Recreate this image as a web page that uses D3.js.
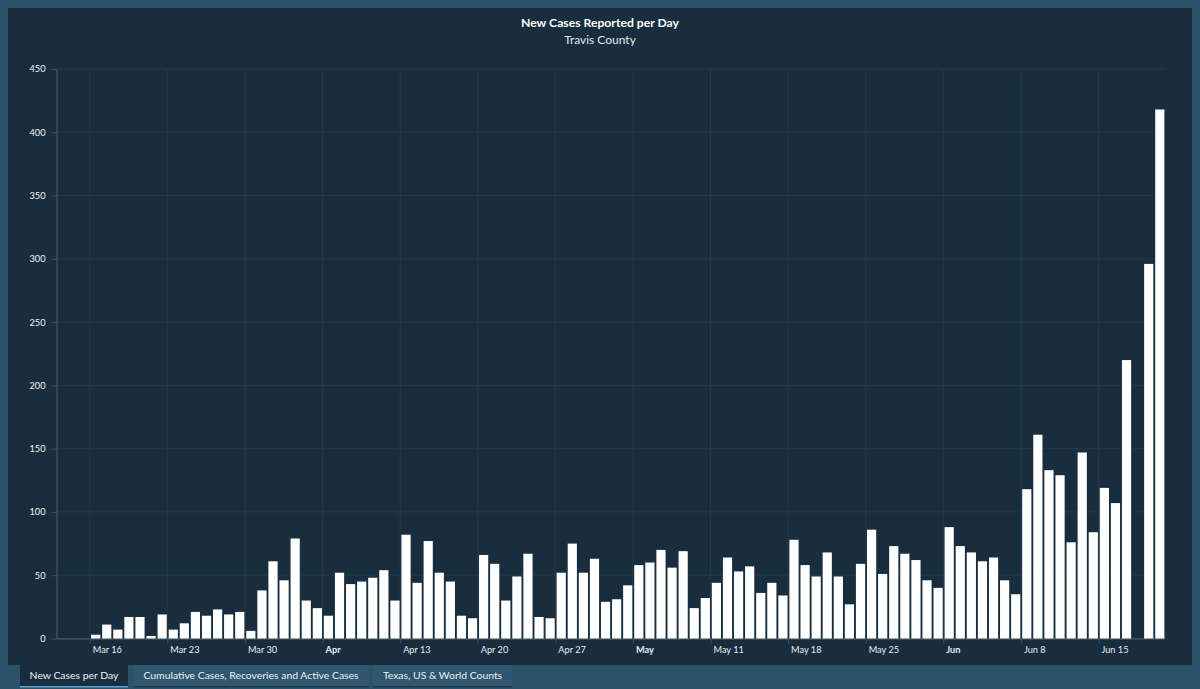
<!DOCTYPE html>
<html>
<head>
<meta charset="utf-8">
<script src="https://cdn.jsdelivr.net/npm/d3@7"></script>
<style>
  html, body { margin: 0; padding: 0; background: #2b5269; overflow: hidden; }
  text { font-family: Lato, "Open Sans", sans-serif; }
</style>
</head>
<body>
<svg id="chart" width="1200" height="689"></svg>
<script>
  // Daily counts, Mar 13 through Jun 20. null = nothing reported.
  var firstDay = '2020-03-13';
  var newCases = [
    null, null, null,
    3, 11, 7, 17, 17, 2, 19, 7, 12, 21, 18, 23, 19, 21, 6, 38,
    61, 46, 79, 30, 24, 18, 52, 43, 45, 48, 54, 30, 82, 44, 77, 52, 45, 18, 16,
    66, 59, 30, 49, 67, 17, 16, 52, 75, 52, 63,
    29, 31, 42, 58, 60, 70, 56, 69, 24, 32, 44, 64, 53, 57, 36, 44, 34, 78, 58,
    49, 68, 49, 27, 59, 86, 51, 73, 67, 62, 46, 40,
    88, 73, 68, 61, 64, 46, 35, 118, 161, 133, 129, 76, 147, 84, 119, 107, 220,
    null, 296, 418
  ];

  var tickDates = ['2020-03-16', '2020-03-23', '2020-03-30', '2020-04-06', '2020-04-13',
    '2020-04-20', '2020-04-27', '2020-05-04', '2020-05-11', '2020-05-18', '2020-05-25',
    '2020-06-01', '2020-06-08', '2020-06-15'];
  var tickLabels = ['Mar 16', 'Mar 23', 'Mar 30', 'Apr', 'Apr 13', 'Apr 20', 'Apr 27',
    'May', 'May 11', 'May 18', 'May 25', 'Jun', 'Jun 8', 'Jun 15'];
  var boldLabels = ['Apr', 'May', 'Jun'];
  var yTicks = [0, 50, 100, 150, 200, 250, 300, 350, 400, 450];
  var tabs = ['New Cases per Day', 'Cumulative Cases, Recoveries and Active Cases', 'Texas, US & World Counts'];
  var tabEdges = [[20, 128], [133, 369], [373, 512]];

  var parseDay = d3.utcParse('%Y-%m-%d');
  var start = parseDay(firstDay);
  var days = newCases.map(function(v, i) {
    return { date: d3.utcDay.offset(start, i), value: v };
  });

  var svg = d3.select('#chart');
  var plotLeft = 56.5, plotRight = 1165, plotTop = 69, plotBottom = 638.5;

  var x = d3.scaleUtc()
    .domain([start, d3.utcDay.offset(start, newCases.length)])
    .range([plotLeft, plotRight]);
  var y = d3.scaleLinear().domain([0, 450]).range([plotBottom, plotTop]);

  // Panel.
  svg.append('rect')
    .attr('x', 8).attr('y', 8).attr('width', 1184).attr('height', 657)
    .attr('fill', '#182e3e');

  // Title.
  svg.append('text')
    .attr('x', 600).attr('y', 26.5).attr('text-anchor', 'middle')
    .attr('fill', '#ffffff').attr('font-size', 12.2).attr('font-weight', 700)
    .text('New Cases Reported per Day');
  svg.append('text')
    .attr('x', 600).attr('y', 44).attr('text-anchor', 'middle')
    .attr('fill', '#e4e9ec').attr('font-size', 12)
    .text('Travis County');

  // Grid.
  svg.append('g').selectAll('line').data(yTicks).join('line')
    .attr('x1', plotLeft).attr('x2', plotRight)
    .attr('y1', function(d) { return y(d); })
    .attr('y2', function(d) { return y(d); })
    .attr('stroke', '#223947');
  svg.append('g').selectAll('line').data(tickDates).join('line')
    .attr('x1', function(d) { return x(parseDay(d)); })
    .attr('x2', function(d) { return x(parseDay(d)); })
    .attr('y1', plotTop).attr('y2', plotBottom)
    .attr('stroke', '#223947');

  // Axes.
  var yAxis = svg.append('g')
    .attr('transform', 'translate(' + plotLeft + ',0)')
    .call(d3.axisLeft(y).tickValues(yTicks).tickSize(5).tickPadding(6).tickSizeOuter(0));
  var xAxis = svg.append('g')
    .attr('transform', 'translate(0,' + plotBottom + ')')
    .call(d3.axisBottom(x)
      .tickValues(tickDates.map(parseDay))
      .tickSize(5)
      .tickSizeOuter(0)
      .tickPadding(3)
      .tickFormat(function(d, i) { return tickLabels[i]; }));

  yAxis.select('.domain').attr('stroke', '#4c606e');
  xAxis.select('.domain').attr('stroke', '#4c606e');
  yAxis.selectAll('.tick line').attr('stroke', '#3c5261');
  xAxis.selectAll('.tick line').attr('stroke', '#3c5261');
  yAxis.selectAll('.tick text')
    .attr('fill', '#f4f6f7').attr('font-size', 9.2).style('font-family', 'Lato');
  xAxis.selectAll('.tick text')
    .attr('fill', '#e8ecef').attr('font-size', 9.2).style('font-family', 'Lato')
    .attr('text-anchor', 'start').attr('x', 2.5)
    .attr('font-weight', function(d, i) { return boldLabels.indexOf(tickLabels[i]) >= 0 ? 700 : 400; });

  // Bars.
  var dayWidth = x(d3.utcDay.offset(start, 1)) - x(start);
  svg.append('g').selectAll('rect')
    .data(days.filter(function(d) { return d.value !== null; }))
    .join('rect')
    .attr('x', function(d) { return x(d.date) + 1.3; })
    .attr('width', dayWidth - 1.9)
    .attr('y', function(d) { return y(d.value); })
    .attr('height', function(d) { return plotBottom - y(d.value); })
    .attr('fill', '#ffffff');

  // Tabs under the panel.
  var tab = svg.append('g').selectAll('g').data(tabs).join('g');
  tab.append('rect')
    .attr('x', function(d, i) { return tabEdges[i][0]; })
    .attr('y', 665)
    .attr('width', function(d, i) { return tabEdges[i][1] - tabEdges[i][0]; })
    .attr('height', 21)
    .attr('fill', function(d, i) { return i === 0 ? '#182e3e' : '#2f566e'; });
  tab.append('rect')
    .attr('x', function(d, i) { return tabEdges[i][0]; })
    .attr('y', 686)
    .attr('width', function(d, i) { return tabEdges[i][1] - tabEdges[i][0]; })
    .attr('height', 1.5)
    .attr('fill', function(d, i) { return i === 0 ? '#5fa3c7' : '#1d3a4d'; });
  tab.append('text')
    .attr('x', function(d, i) { return (tabEdges[i][0] + tabEdges[i][1]) / 2; })
    .attr('y', 678.5)
    .attr('text-anchor', 'middle')
    .attr('fill', '#eef1f3')
    .attr('font-size', 10.4)
    .text(function(d) { return d; });
</script>
</body>
</html>
